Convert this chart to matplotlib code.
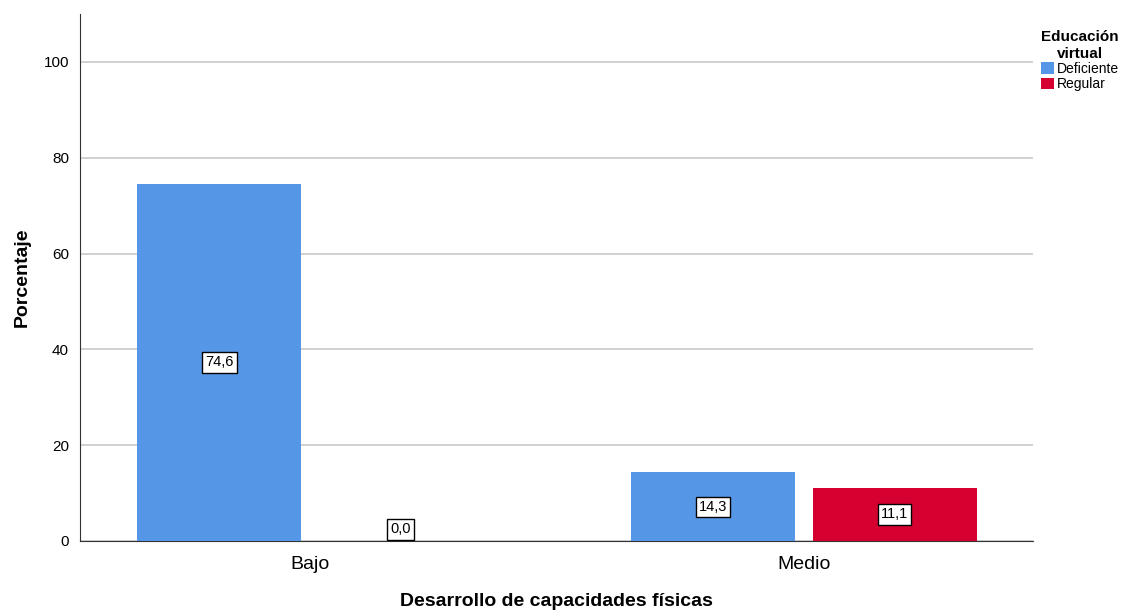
import matplotlib.pyplot as plt
import numpy as np

plt.rcParams['font.family'] = ['Liberation Sans', 'DejaVu Sans']

# Data
categories = ['Bajo', 'Medio']
series = ['Deficiente', 'Regular']
deficiente = [74.6, 14.3]
regular = [0.0, 11.1]
colors = ['#5596E6', '#D5002F']

fig = plt.figure(figsize=(11.25, 6.13), dpi=100)
ax = fig.add_axes([0.0711, 0.1175, 0.847, 0.8595])

x = np.arange(len(categories))
width = 0.332
offset = 0.184

bars1 = ax.bar(x - offset, deficiente, width, color=colors[0], label=series[0], zorder=3)
bars2 = ax.bar(x + offset, regular, width, color=colors[1], label=series[1], zorder=3)

# value labels in boxes
for bars in (bars1, bars2):
    for b in bars:
        h = b.get_height()
        y = h / 2 if h > 0 else 2.4
        ax.text(b.get_x() + b.get_width() / 2, y, f'{h:.1f}'.replace('.', ','),
                ha='center', va='center', fontsize=10.5, zorder=4,
                bbox=dict(boxstyle='square,pad=0.22', fc='white', ec='black', lw=1))

ax.set_xlim(-0.466, 1.464)
ax.set_ylim(0, 110)
ax.set_yticks([0, 20, 40, 60, 80, 100])
ax.set_xticks(x)
ax.set_xticklabels(categories, fontsize=14)
ax.tick_params(axis='y', labelsize=11, length=0, pad=8)
ax.tick_params(axis='x', length=0, pad=11)
ax.yaxis.grid(True, color='#c8c8c8', lw=1.2, zorder=0)
ax.set_axisbelow(True)

for s in ['top', 'right']:
    ax.spines[s].set_visible(False)
ax.spines['left'].set_color('#333333')
ax.spines['bottom'].set_color('#333333')

ax.set_ylabel('Porcentaje', fontsize=14, fontweight='bold', labelpad=9)
ax.set_xlabel('Desarrollo de capacidades físicas', fontsize=14, fontweight='bold', labelpad=14)

leg = ax.legend(title='Educación\nvirtual', loc='upper left', bbox_to_anchor=(1.0, 0.985),
                frameon=False, fontsize=10, handlelength=0.9, handleheight=0.9,
                handletextpad=0.2, labelspacing=0.1, borderaxespad=0.2,
                title_fontproperties={'weight': 'bold', 'size': 11})
leg.get_title().set_multialignment('center')

plt.savefig('out.png')
